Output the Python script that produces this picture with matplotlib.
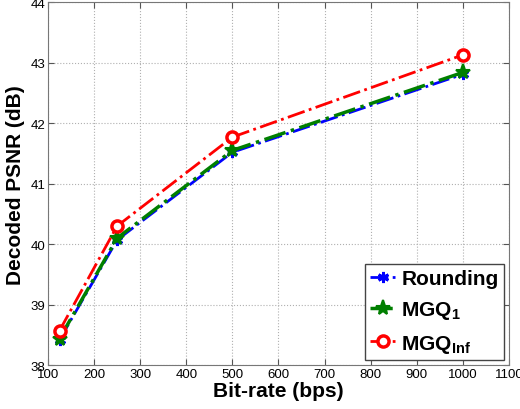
import matplotlib
matplotlib.use("Agg")
from matplotlib import pyplot as plt

bitrate = [125, 250, 500, 1000]
rounding = [38.42, 40.07, 41.52, 42.81]
mgq_1 = [38.44, 40.10, 41.55, 42.84]
mgq_inf = [38.57, 40.30, 41.77, 43.13]

x_ticks = [100, 200, 300, 400, 500, 600, 700, 800, 900, 1000, 1100]
y_ticks = [38, 39, 40, 41, 42, 43, 44]

plt.rcParams['font.family'] = ['Liberation Sans', 'DejaVu Sans']
plt.rcParams['mathtext.fontset'] = 'custom'
plt.rcParams['mathtext.bf'] = 'Liberation Sans:bold'
plt.rcParams['mathtext.rm'] = 'Liberation Sans:bold'

fig = plt.figure(figsize=(5.2, 4.1), dpi=100)
ax = fig.add_axes([0.0923, 0.107, 0.8865, 0.885])

ax.plot(bitrate, rounding, color='#0000ff', linestyle='-.', linewidth=2,
        marker=(6, 2, 0), markersize=8, markeredgewidth=2, label='Rounding')
ax.plot(bitrate, mgq_1, color='#007f00', linestyle='-.', linewidth=2.5,
        marker='*', markersize=11, markeredgewidth=1.5, label='MGQ$_\\mathbf{1}$')
ax.plot(bitrate, mgq_inf, color='#ff0000', linestyle='-.', linewidth=2,
        marker='o', markersize=8, markeredgewidth=2.5, markerfacecolor='white',
        label='MGQ$_\\mathbf{Inf}$')

ax.set_xlim(100, 1100)
ax.set_ylim(38, 44)
ax.set_xticks(x_ticks)
ax.set_yticks(y_ticks)
ax.tick_params(direction='in', top=True, right=True, labelsize=9.5,
               length=4, pad=2, color='#555555')
ax.grid(True, linestyle=':', color='#b0b0b0', linewidth=0.8)
for s in ax.spines.values():
    s.set_color('#777777')

ax.set_xlabel('Bit-rate (bps)', fontsize=15, fontweight='bold', labelpad=1)
ax.set_ylabel('Decoded PSNR (dB)', fontsize=15, fontweight='bold', labelpad=4)

leg = ax.legend(loc='lower right', prop={'size': 15, 'weight': 'bold'},
                fancybox=False, edgecolor='#444444', framealpha=1,
                handlelength=1.2, handletextpad=0.3, borderpad=0.25,
                labelspacing=0.55, borderaxespad=0.25)
leg.get_frame().set_linewidth(1)

fig.savefig('out.png', dpi=100)
